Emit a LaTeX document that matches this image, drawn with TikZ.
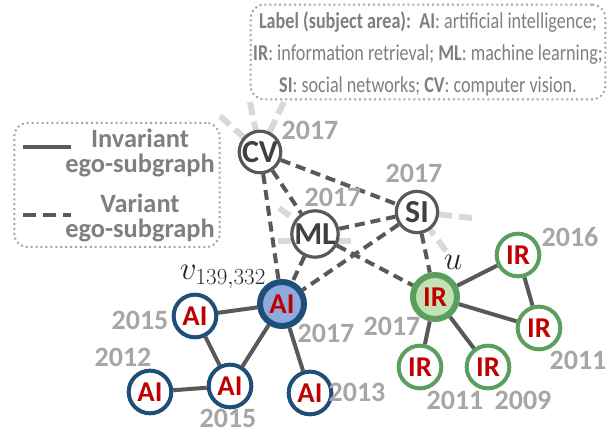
\documentclass[tikz,border=0pt]{standalone}
\usepackage[no-math]{fontspec}
\setmainfont{Carlito}
\newfontfamily\narrowfont[FakeStretch=0.8]{Carlito}
\usetikzlibrary{backgrounds,positioning}
\pgfdeclarelayer{edgelayer}
\pgfdeclarelayer{nodelayer}
\pgfsetlayers{background,edgelayer,nodelayer,main}
\definecolor{edgegray}{HTML}{595959}
\definecolor{ghostgray}{HTML}{D9D9D9}
\definecolor{yeargray}{HTML}{A6A6A6}
\definecolor{textgray}{HTML}{7F7F7F}
\definecolor{aiblue}{HTML}{1F4E79}
\definecolor{aifill}{HTML}{8FAADC}
\definecolor{irgreen}{HTML}{5B9F5F}
\definecolor{irfill}{HTML}{C5E0B4}
\definecolor{labred}{HTML}{C00000}
\tikzstyle{none}=[inner sep=0mm]
\tikzstyle{sn}=[circle,draw=edgegray,fill=white,line width=2.4pt,minimum size=31pt,inner sep=0pt,text=black!75,font=\fontsize{24}{24}\selectfont\bfseries]
\tikzstyle{an}=[sn,draw=aiblue,line width=3pt,minimum size=32pt,text=labred,font=\fontsize{21.5}{21.5}\selectfont\bfseries]
\tikzstyle{ac}=[an,fill=aifill,line width=4.5pt,minimum size=33pt]
\tikzstyle{irn}=[an,draw=irgreen]
\tikzstyle{irc}=[irn,fill=irfill,line width=4.5pt,minimum size=33pt]
\tikzstyle{yr}=[none,text=yeargray,font=\fontsize{21}{21}\selectfont\bfseries]
\tikzstyle{legendtext}=[none,text=textgray,align=center,font=\fontsize{19.8}{19}\selectfont\bfseries]
\tikzstyle{dotbox}=[draw=yeargray,line width=1.5pt,dash pattern=on 1.5pt off 2.2pt,rounded corners=10pt]
\tikzstyle{solidedge}=[draw=edgegray,line width=3pt]
\tikzstyle{varedge}=[solidedge,dash pattern=on 7.5pt off 4.5pt]
\tikzstyle{ghost}=[draw=ghostgray,line width=4.5pt,dash pattern=on 10pt off 5pt]

\begin{document}
\begin{tikzpicture}[x=0.75pt,y=-0.75pt]
	\useasboundingbox (0,0) rectangle (608,434);
	\begin{pgfonlayer}{nodelayer}
		% label legend
		\node [dotbox,minimum width=266pt,minimum height=71pt] (labelbox) at (428, 52) {};
		\node [none,text=textgray,align=center,font=\narrowfont\fontsize{17}{24}\selectfont] (labeltext) at (428, 54) {{\bfseries Label (subject area):}\ \ {\bfseries AI}: artificial intelligence;\\{\bfseries IR}: information retrieval; {\bfseries ML}: machine learning;\\{\bfseries SI}: social networks; {\bfseries CV}: computer vision.};
		% line legend
		\node [dotbox,minimum width=154pt,minimum height=93pt] (linebox) at (117, 185) {};
		\coordinate (inv1) at (23, 147);
		\coordinate (inv2) at (71, 147);
		\coordinate (var1) at (23, 215);
		\coordinate (var2) at (71, 215);
		\node [legendtext] (invtext) at (140, 153) {Invariant\\ego-subgraph};
		\node [legendtext] (vartext) at (140, 218) {Variant\\ego-subgraph};
		% subject areas
		\node [style=sn] (cv) at (260, 152) {CV};
		\node [style=sn] (ml) at (315, 234) {ML};
		\node [style=sn] (si) at (417, 212) {SI};
		% AI papers
		\node [style=ac] (v) at (282, 304) {AI};
		\node [style=an] (a1) at (195, 316) {AI};
		\node [style=an] (a2) at (150, 392) {AI};
		\node [style=an] (a3) at (230, 386) {AI};
		\node [style=an] (a4) at (310, 393) {AI};
		% IR papers
		\node [style=irc] (u) at (435, 297) {IR};
		\node [style=irn] (r1) at (518, 255) {IR};
		\node [style=irn] (r2) at (539, 328) {IR};
		\node [style=irn] (r3) at (420, 367) {IR};
		\node [style=irn] (r4) at (488, 367) {IR};
		% years
		\node [style=yr] (ycv) at (310, 130) {2017};
		\node [style=yr] (ysi) at (414, 173) {2017};
		\node [style=yr] (yml) at (333, 197) {2017};
		\node [style=yr] (yv) at (326, 333) {2017};
		\node [style=yr] (yu) at (392, 326) {2017};
		\node [style=yr] (ya1) at (140, 320) {2015};
		\node [style=yr] (ya2) at (123, 357) {2012};
		\node [style=yr] (ya3) at (228, 418) {2015};
		\node [style=yr] (ya4) at (357, 392) {2013};
		\node [style=yr] (yr1) at (570, 237) {2016};
		\node [style=yr] (yr2) at (578, 360) {2011};
		\node [style=yr] (yr3) at (455, 400) {2011};
		\node [style=yr] (yr4) at (523, 400) {2009};
		% names
		\node [style=none,text=black!85,font=\fontsize{24}{24}\selectfont] (vname) at (223, 277) {$v_{139,332}$};
		\node [style=none,text=black!85,font=\fontsize{24}{24}\selectfont] (uname) at (453, 262) {$u$};
	\end{pgfonlayer}
	\begin{pgfonlayer}{edgelayer}
		% neighbours outside the picture
		\coordinate (g1) at (220, 116);
		\coordinate (g2) at (250, 102);
		\coordinate (g3) at (284, 102);
		\coordinate (g4) at (278, 241);
		\coordinate (g5) at (358, 241);
		\coordinate (g6) at (279, 208);
		\coordinate (g7) at (472, 218);
		\coordinate (g8) at (446, 251);
		\draw [ghost] (g1) -- (cv.center);
		\draw [ghost] (g2) -- (cv.center);
		\draw [ghost] (g3) -- (cv.center);
		\draw [ghost] (g4) -- (g5);
		\draw [ghost] (g6) -- (ml.center);
		\draw [ghost] (g7) -- (si.center);
		\draw [ghost] (g8) -- (si.center);
		% variant part
		\draw [varedge] (cv) -- (v);
		\draw [varedge] (cv) -- (ml);
		\draw [varedge] (cv) -- (si);
		\draw [varedge] (ml) -- (si);
		\draw [varedge] (ml) -- (v);
		\draw [varedge] (ml) -- (u);
		\draw [varedge] (si) -- (v);
		\draw [varedge] (si) -- (u);
		% invariant part
		\draw [solidedge] (v) -- (a1);
		\draw [solidedge] (v) -- (a3);
		\draw [solidedge] (v) -- (a4);
		\draw [solidedge] (a1) -- (a3);
		\draw [solidedge] (a2) -- (a3);
		\draw [solidedge] (u) -- (r1);
		\draw [solidedge] (u) -- (r2);
		\draw [solidedge] (r1) -- (r2);
		\draw [solidedge] (u) -- (r3);
		\draw [solidedge] (u) -- (r4);
		% legend lines
		\draw [solidedge] (inv1) -- (inv2);
		\draw [varedge,dash pattern=on 10pt off 5pt] (var1) -- (var2);
	\end{pgfonlayer}
\end{tikzpicture}
\end{document}
